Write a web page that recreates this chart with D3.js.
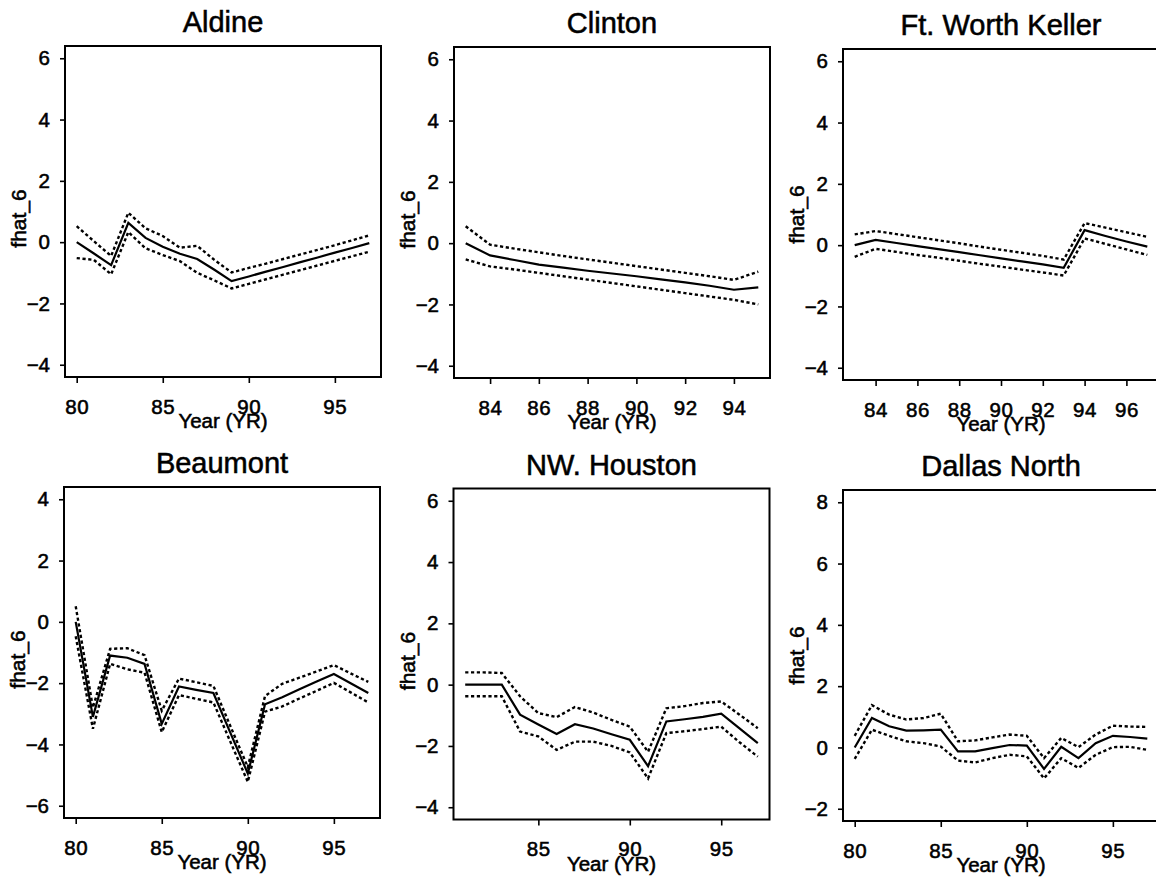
<!DOCTYPE html>
<html>
<head>
<meta charset="utf-8">
<script src="https://cdn.jsdelivr.net/npm/d3@7"></script>
<style>
  body { margin: 0; background: #fff; }
  svg { display: block; }
  text { font-family: "Liberation Sans", Arial, Helvetica, sans-serif; fill: #000; stroke: #000; stroke-width: 0.55px; }
</style>
</head>
<body>
<svg id="chart" width="1156" height="883"></svg>
<script>
// ---- Fitted values (solid) with upper / lower bands (dotted), by district ----
const aldineYears = [80,81,82,83,84,85,86,87,88,89,90,91,92,93,94,95,96,97];
const aldineFit   = [0,-0.37,-0.75,0.63,0.14,-0.15,-0.38,-0.55,-0.9,-1.27,-1.12,-0.96,-0.81,-0.65,-0.5,-0.34,-0.19,-0.03];
const aldineUpper = [0.52,0.03,-0.45,0.96,0.45,0.2,-0.18,-0.12,-0.58,-0.99,-0.84,-0.7,-0.55,-0.4,-0.25,-0.1,0.06,0.22];
const aldineLower = [-0.52,-0.58,-1.05,0.33,-0.2,-0.42,-0.62,-1.0,-1.25,-1.51,-1.36,-1.21,-1.06,-0.91,-0.76,-0.61,-0.46,-0.31];

const clintonYears = [83,84,85,86,87,88,89,90,91,92,93,94,95];
const clintonFit   = [0,-0.4,-0.55,-0.7,-0.8,-0.9,-0.99,-1.08,-1.18,-1.28,-1.39,-1.52,-1.44];
const clintonUpper = [0.55,-0.05,-0.18,-0.3,-0.42,-0.53,-0.64,-0.75,-0.86,-0.97,-1.08,-1.2,-0.93];
const clintonLower = [-0.53,-0.76,-0.86,-0.97,-1.08,-1.19,-1.3,-1.41,-1.52,-1.63,-1.74,-1.85,-2.0];

const kellerYears = [83,84,85,86,87,88,89,90,91,92,93,94,95,96,97];
const kellerFit   = [0,0.17,0.07,-0.03,-0.13,-0.23,-0.33,-0.43,-0.53,-0.63,-0.74,0.49,0.3,0.12,-0.05];
const kellerUpper = [0.35,0.46,0.36,0.26,0.16,0.06,-0.05,-0.15,-0.25,-0.35,-0.47,0.72,0.57,0.42,0.27];
const kellerLower = [-0.38,-0.12,-0.22,-0.32,-0.41,-0.51,-0.61,-0.7,-0.8,-0.89,-0.99,0.22,0.04,-0.14,-0.32];

const beaumontYears = [80,81,82,83,84,85,86,87,88,89,90,91,92,93,94,95,96,97];
const beaumontFit   = [0,-3.1,-1.1,-1.17,-1.37,-3.33,-2.11,-2.22,-2.32,-3.64,-4.95,-2.69,-2.46,-2.2,-1.95,-1.7,-2.01,-2.32];
const beaumontUpper = [0.51,-2.8,-0.88,-0.86,-1.09,-2.9,-1.85,-1.97,-2.09,-3.42,-4.74,-2.42,-2.02,-1.82,-1.62,-1.41,-1.69,-1.96];
const beaumontLower = [-0.47,-3.49,-1.37,-1.55,-1.66,-3.6,-2.39,-2.51,-2.63,-3.93,-5.22,-2.93,-2.76,-2.5,-2.25,-1.99,-2.31,-2.63];

const nwHoustonYears = [81,82,83,84,85,86,87,88,89,90,91,92,93,94,95,96,97];
const nwHoustonFit   = [0,0,0,-0.98,-1.3,-1.61,-1.29,-1.43,-1.62,-1.8,-2.66,-1.2,-1.13,-1.05,-0.95,-1.43,-1.91];
const nwHoustonUpper = [0.4,0.4,0.38,-0.38,-0.93,-1.06,-0.73,-0.91,-1.15,-1.37,-2.19,-0.77,-0.7,-0.6,-0.55,-0.98,-1.42];
const nwHoustonLower = [-0.38,-0.38,-0.38,-1.53,-1.69,-2.13,-1.86,-1.86,-2.0,-2.21,-3.06,-1.58,-1.52,-1.45,-1.37,-1.88,-2.35];

const dallasYears = [80,81,82,83,84,85,86,87,88,89,90,91,92,93,94,95,96,97];
const dallasFit   = [0,0.96,0.69,0.55,0.56,0.58,-0.13,-0.13,-0.02,0.08,0.06,-0.7,0.02,-0.35,0.14,0.38,0.34,0.29];
const dallasUpper = [0.38,1.38,1.07,0.91,0.96,1.1,0.2,0.23,0.33,0.42,0.38,-0.35,0.31,0.01,0.42,0.71,0.68,0.67];
const dallasLower = [-0.37,0.58,0.38,0.2,0.14,0.03,-0.43,-0.49,-0.35,-0.24,-0.29,-1.01,-0.35,-0.67,-0.24,0.01,0.02,-0.08];

// ---- Tick values ----
const yTicksFrom4 = [-4,-2,0,2,4,6];
const yTicksFrom6 = [-6,-4,-2,0,2,4];
const yTicksFrom2 = [-2,0,2,4,6,8];
const xTicksBy5   = [80,85,90,95];
const xTicksClinton = [84,86,88,90,92,94];
const xTicksKeller  = [84,86,88,90,92,94,96];
const xTicksNW      = [85,90,95];

const panels = [
  { title: "Aldine", years: aldineYears, fit: aldineFit, upper: aldineUpper, lower: aldineLower, yTicks: yTicksFrom4, xTicks: xTicksBy5 },
  { title: "Clinton", years: clintonYears, fit: clintonFit, upper: clintonUpper, lower: clintonLower, yTicks: yTicksFrom4, xTicks: xTicksClinton },
  { title: "Ft. Worth Keller", years: kellerYears, fit: kellerFit, upper: kellerUpper, lower: kellerLower, yTicks: yTicksFrom4, xTicks: xTicksKeller },
  { title: "Beaumont", years: beaumontYears, fit: beaumontFit, upper: beaumontUpper, lower: beaumontLower, yTicks: yTicksFrom6, xTicks: xTicksBy5 },
  { title: "NW. Houston", years: nwHoustonYears, fit: nwHoustonFit, upper: nwHoustonUpper, lower: nwHoustonLower, yTicks: yTicksFrom4, xTicks: xTicksNW },
  { title: "Dallas North", years: dallasYears, fit: dallasFit, upper: dallasUpper, lower: dallasLower, yTicks: yTicksFrom2, xTicks: xTicksBy5 }
];

// Frame placement of each plot region (left, top), plus y-title offset
const frames = [
  { left: 65,  top: 46,  labelShift: 7 },
  { left: 454, top: 47,  labelShift: 7 },
  { left: 843, top: 49,  labelShift: 0 },
  { left: 64,  top: 487, labelShift: 7 },
  { left: 453.5, top: 488.5, labelShift: 7 },
  { left: 843, top: 490, labelShift: 0 }
];
const W = 316, H = 331;

const svg = d3.select("#chart");
svg.append("rect").attr("width", 1156).attr("height", 883).attr("fill", "#fff");

panels.forEach((p, i) => {
  const f = frames[i];
  const g = svg.append("g").attr("transform", `translate(${f.left},${f.top})`);

  const [x0, x1] = d3.extent(p.years);
  const xPad = (x1 - x0) * 0.04;
  const x = d3.scaleLinear().domain([x0 - xPad, x1 + xPad]).range([0, W]);

  const yLo = p.yTicks[0], yHi = p.yTicks[p.yTicks.length - 1];
  const yPad = (yHi - yLo) * 0.04;
  const y = d3.scaleLinear().domain([yLo - yPad, yHi + yPad]).range([H, 0]);

  // x axis
  const gx = g.append("g")
    .attr("transform", `translate(0,${H})`)
    .call(d3.axisBottom(x).tickValues(p.xTicks).tickSize(6).tickPadding(16).tickFormat(d3.format("d")));
  gx.select(".domain").remove();
  gx.selectAll(".tick line").attr("stroke", "#000").attr("stroke-width", 1.6);
  gx.selectAll(".tick text").attr("font-size", 20.5).attr("font-family", null).attr("letter-spacing", 0.6);

  // y axis
  const gy = g.append("g")
    .call(d3.axisLeft(y).tickValues(p.yTicks).tickSize(5).tickPadding(10).tickFormat(d3.format("d")));
  gy.select(".domain").remove();
  gy.selectAll(".tick line").attr("stroke", "#000").attr("stroke-width", 1.6);
  gy.selectAll(".tick text").attr("font-size", 20.5).attr("font-family", null);

  // plot frame
  g.append("rect")
    .attr("x", 0).attr("y", 0).attr("width", W).attr("height", H)
    .attr("fill", "none").attr("stroke", "#000").attr("stroke-width", 2);

  const line = key => d3.line()
    .x((d, j) => x(p.years[j]))
    .y(d => y(d))(p[key]);

  // bands
  ["upper", "lower"].forEach(k => {
    g.append("path")
      .attr("d", line(k))
      .attr("fill", "none").attr("stroke", "#000")
      .attr("stroke-width", 2.4)
      .attr("stroke-dasharray", "3.2,2.6");
  });
  // fitted line
  g.append("path")
    .attr("d", line("fit"))
    .attr("fill", "none").attr("stroke", "#000")
    .attr("stroke-width", 2.2)
    .attr("stroke-linejoin", "miter");

  // titles
  g.append("text")
    .attr("x", W / 2).attr("y", -14)
    .attr("text-anchor", "middle")
    .attr("font-size", 29)
    .text(p.title);

  g.append("text")
    .attr("x", W / 2).attr("y", H + 51)
    .attr("text-anchor", "middle")
    .attr("font-size", 20.5)
    .text("Year (YR)");

  g.append("text")
    .attr("transform", `translate(-39,${H / 2 + f.labelShift}) rotate(-90)`)
    .attr("text-anchor", "middle")
    .attr("font-size", 21)
    .text("fhat_6");
});
</script>
</body>
</html>
